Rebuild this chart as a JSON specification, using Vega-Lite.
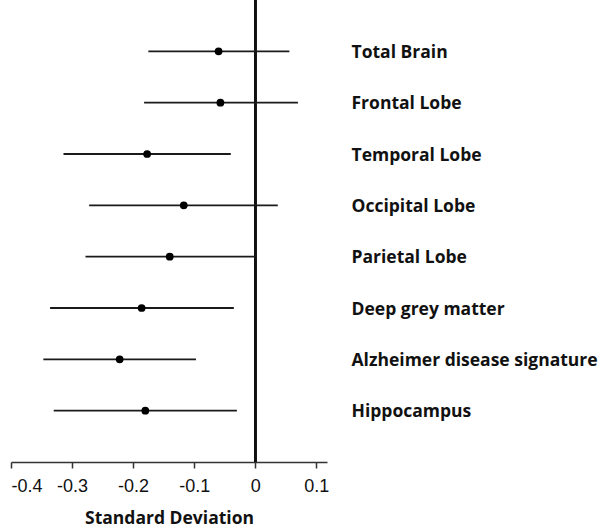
{
  "$schema": "https://vega.github.io/schema/vega-lite/v6.json",
  "width": 316,
  "height": 462,
  "autosize": "none",
  "padding": {"left": 11, "top": 0, "right": 273, "bottom": 68},
  "background": "white",
  "config": {"view": {"stroke": null}},
  "data": {
    "values": [
      {"region": "Total Brain", "est": -0.060, "lo": -0.175, "hi": 0.056},
      {"region": "Frontal Lobe", "est": -0.057, "lo": -0.182, "hi": 0.070},
      {"region": "Temporal Lobe", "est": -0.177, "lo": -0.314, "hi": -0.040},
      {"region": "Occipital Lobe", "est": -0.117, "lo": -0.272, "hi": 0.037},
      {"region": "Parietal Lobe", "est": -0.140, "lo": -0.278, "hi": 0.0},
      {"region": "Deep grey matter", "est": -0.186, "lo": -0.336, "hi": -0.035},
      {"region": "Alzheimer disease signature", "est": -0.222, "lo": -0.347, "hi": -0.097},
      {"region": "Hippocampus", "est": -0.180, "lo": -0.330, "hi": -0.030}
    ]
  },
  "encoding": {
    "y": {
      "field": "region",
      "type": "ordinal",
      "sort": null,
      "scale": {"type": "point", "padding": 1.02},
      "axis": {
        "orient": "right",
        "title": null,
        "domain": false,
        "ticks": false,
        "grid": false,
        "labelPadding": 24,
        "labelAlign": "left",
        "labelBaseline": "middle",
        "labelOffset": 1,
        "labelFont": "Open Sans",
        "labelFontWeight": "bold",
        "labelFontSize": 17.5,
        "labelColor": "#111",
        "labelLimit": 400
      }
    }
  },
  "layer": [
    {
      "mark": {"type": "rule", "strokeWidth": 2.3, "color": "#111"},
      "encoding": {"x": {"datum": 0, "type": "quantitative"}, "y": null}
    },
    {
      "mark": {"type": "rule", "strokeWidth": 1.8, "color": "#1a1a1a"},
      "encoding": {
        "x": {
          "field": "lo",
          "type": "quantitative",
          "scale": {"domain": [-0.4, 0.1176], "nice": false, "zero": false},
          "axis": {
            "values": [-0.4, -0.3, -0.2, -0.1, 0, 0.1],
            "labelExpr": "datum.value == 0 ? '0' : (datum.value < 0 ? '-' : '') + format(abs(datum.value), '.1f')",
            "grid": false,
            "domainColor": "#333",
            "domainWidth": 1.5,
            "tickColor": "#333",
            "tickWidth": 1.5,
            "tickSize": 6,
            "labelFont": "Liberation Sans",
            "labelFontSize": 18,
            "labelColor": "#111",
            "labelPadding": 9,
            "title": "Standard Deviation",
            "titleFont": "Open Sans",
            "titleFontWeight": "bold",
            "titleFontSize": 17.5,
            "titleColor": "#111",
            "titlePadding": 14
          }
        },
        "x2": {"field": "hi"}
      }
    },
    {
      "mark": {"type": "point", "filled": true, "size": 60, "color": "#000", "opacity": 1},
      "encoding": {"x": {"field": "est", "type": "quantitative"}}
    }
  ]
}
